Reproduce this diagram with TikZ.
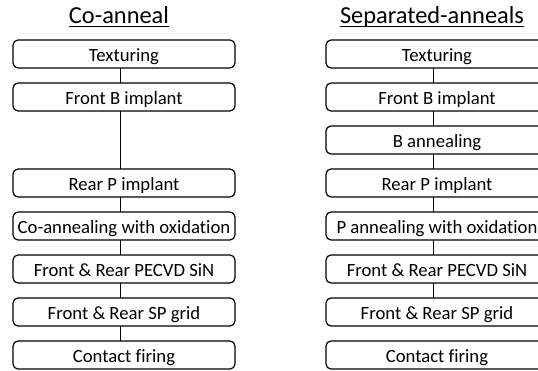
\documentclass[tikz,border=0pt]{standalone}
\usepackage{fontspec}
\setmainfont{Carlito}[Ligatures=NoCommon]
\usetikzlibrary{matrix,positioning}

\begin{document}
\begin{tikzpicture}[x=1pt, y=-1pt,
    stepbox/.style={draw, rounded corners=5pt, line width=1.2pt, minimum width=222pt, minimum height=28pt,
      text height=16pt, text depth=2pt, inner xsep=2pt, inner ysep=0pt, outer sep=0pt, anchor=center,
      font=\fontsize{18.7}{22}\selectfont},
    heading/.style={inner sep=0pt, anchor=base, font=\fontsize{24.4}{29}\selectfont},
    link/.style={line width=1pt}]
    \useasboundingbox (0,0) rectangle (538,371);
		\matrix [row sep=13.8pt, column sep=89.8pt, matrix anchor=tex1.north west](flow) at (13,40) {
			\node[stepbox](tex1){Texturing};                   & \node[stepbox](tex2){Texturing};                 \\
			\node[stepbox](bimp1){Front B implant};            & \node[stepbox](bimp2){Front B implant};          \\
			                                                   & \node[stepbox](bann2){B annealing};              \\
			\node[stepbox](pimp1){Rear P implant};             & \node[stepbox](pimp2){Rear P implant};           \\
			\node[stepbox](ann1){Co-annealing with oxidation}; & \node[stepbox](ann2){P annealing with oxidation}; \\
			\node[stepbox](sin1){Front \& Rear PECVD SiN};     & \node[stepbox](sin2){Front \& Rear PECVD SiN};   \\
			\node[stepbox](grid1){Front \& Rear SP grid};      & \node[stepbox](grid2){Front \& Rear SP grid};    \\
			\node[stepbox](fire1){Contact firing};             & \node[stepbox](fire2){Contact firing};           \\
		};
		\node[heading] (cohead) at ([xshift=-5pt, yshift=16pt]tex1.north) {Co-anneal};
		\node[heading] (sephead) at ([xshift=-5pt, yshift=16pt]tex2.north) {Separated-anneals};
		\draw[link] ([yshift=-3pt]cohead.base west) -- ([yshift=-3pt]cohead.base east);
		\draw[link] ([yshift=-3pt]sephead.base west) -- ([yshift=-3pt]sephead.base east);
		% connectors, a bit left of the box centres
		\foreach \a/\b in {tex1/bimp1, bimp1/pimp1, pimp1/ann1, ann1/sin1, sin1/grid1, grid1/fire1,
		                   tex2/bimp2, bimp2/bann2, bann2/pimp2, pimp2/ann2, ann2/sin2, sin2/grid2}
			\draw[link] ([xshift=-4pt]\a.south) -- ([xshift=-4pt]\b.north);
	\end{tikzpicture}
\end{document}
